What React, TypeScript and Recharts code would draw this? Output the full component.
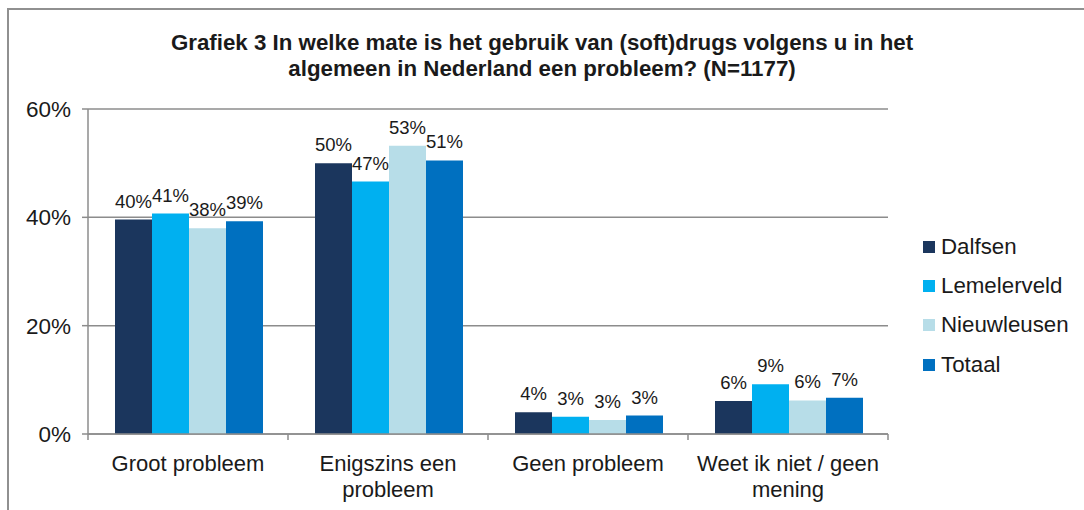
import { BarChart, Bar, XAxis, YAxis, CartesianGrid, LabelList } from "recharts";

const categories = [
  "Groot probleem",
  "Enigszins een\nprobleem",
  "Geen probleem",
  "Weet ik niet / geen\nmening",
];
const dalfsen = [39.6, 50.0, 4.0, 6.1];
const lemelerveld = [40.7, 46.6, 3.2, 9.2];
const nieuwleusen = [38.0, 53.2, 2.6, 6.2];
const totaal = [39.3, 50.5, 3.4, 6.7];
const yTicks = [0, 20, 40, 60];

const series = [
  { key: "Dalfsen", values: dalfsen, color: "#1b365d" },
  { key: "Lemelerveld", values: lemelerveld, color: "#00b0f0" },
  { key: "Nieuwleusen", values: nieuwleusen, color: "#b7dde8" },
  { key: "Totaal", values: totaal, color: "#0070c0" },
];

const data = categories.map((name, i) => {
  const row: Record<string, string | number> = { name };
  series.forEach((s) => (row[s.key] = s.values[i]));
  return row;
});

const FONT = "'Liberation Sans', Arial, sans-serif";
const GRID = "#8c8c8c";

const CategoryTick = (props: any) => {
  const { x, y, payload, index, visibleTicksCount } = props;
  const half = payload.offset ?? 0;
  const lines = String(payload.value).split("\n");
  const last = index === visibleTicksCount - 1;
  return (
    <g>
      <line x1={x - half} x2={x - half} y1={y} y2={y + 6} stroke={GRID} strokeWidth={1.5} />
      {last && <line x1={x + half} x2={x + half} y1={y} y2={y + 6} stroke={GRID} strokeWidth={1.5} />}
      <text x={x} y={y + 37} textAnchor="middle" fontSize={22} fill="#1a1a1a" fontFamily={FONT}>
        {lines.map((l, i) => (
          <tspan key={i} x={x} dy={i === 0 ? 0 : 26}>
            {l}
          </tspan>
        ))}
      </text>
    </g>
  );
};

const App = () => {
  return (
    <div
      style={{
        position: "absolute",
        left: 0,
        top: 0,
        width: 1084,
        height: 510,
        overflow: "hidden",
        background: "#fff",
        fontFamily: FONT,
      }}
    >
      <div
        style={{
          position: "absolute",
          left: 7,
          top: 8,
          width: 1100,
          height: 520,
          border: "2px solid #909090",
        }}
      />
      <div
        style={{
          position: "absolute",
          left: 0,
          top: 30,
          width: 1084,
          textAlign: "center",
          fontWeight: "bold",
          fontSize: 22.3,
          lineHeight: "26px",
          color: "#1a1a1a",
        }}
      >
        Grafiek 3 In welke mate is het gebruik van (soft)drugs volgens u in het
        <br />
        algemeen in Nederland een probleem? (N=1177)
      </div>

      <div style={{ position: "absolute", left: 0, top: 0 }}>
        <BarChart
          width={1084}
          height={510}
          data={data}
          margin={{ top: 109, right: 196, bottom: 46, left: 28 }}
          barCategoryGap="13.5%"
          barGap={0}
        >
          <CartesianGrid vertical={false} stroke={GRID} strokeWidth={1.5} />
          <XAxis
            dataKey="name"
            interval={0}
            tickLine={false}
            tickSize={0}
            tickMargin={0}
            axisLine={{ stroke: GRID, strokeWidth: 1.5 }}
            tick={<CategoryTick />}
          />
          <YAxis
            width={60}
            domain={[0, 60]}
            ticks={yTicks}
            tickFormatter={(v: number) => `${v}%`}
            tick={{ fontSize: 22.5, fill: "#1a1a1a", fontFamily: FONT }}
            tickSize={6}
            tickMargin={11}
            axisLine={{ stroke: GRID, strokeWidth: 1.5 }}
            tickLine={{ stroke: GRID, strokeWidth: 1.5 }}
          />
          {series.map((s) => (
            <Bar key={s.key} dataKey={s.key} fill={s.color} isAnimationActive={false}>
              <LabelList
                dataKey={s.key}
                position="top"
                offset={12}
                formatter={(v: any) => `${Math.round(Number(v))}%`}
                style={{ fontSize: 18.5, fill: "#1a1a1a", fontFamily: FONT }}
              />
            </Bar>
          ))}
        </BarChart>
      </div>

      <div style={{ position: "absolute", left: 923, top: 227 }}>
        {series.map((s) => (
          <div
            key={s.key}
            style={{ display: "flex", alignItems: "center", height: 39.3, fontSize: 22.3, color: "#1a1a1a" }}
          >
            <span style={{ width: 12, height: 12, background: s.color, marginRight: 6 }} />
            {s.key}
          </div>
        ))}
      </div>
    </div>
  );
};

export default App;
